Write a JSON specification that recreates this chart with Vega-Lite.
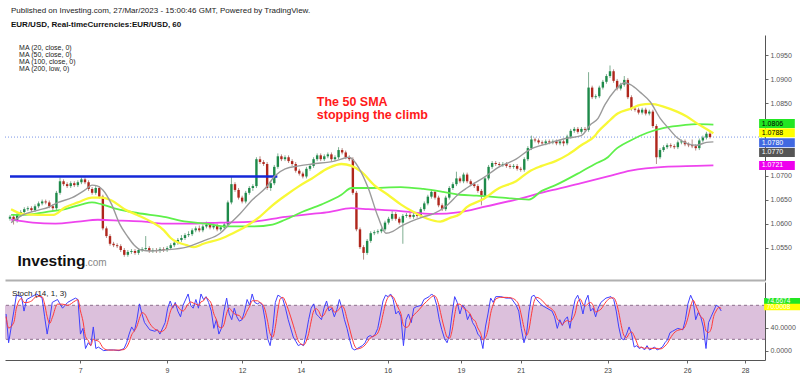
{
"$schema":"https://vega.github.io/schema/vega-lite/v6.json",
"padding":{"left":4,"top":7,"right":0,"bottom":0},
"background":"white",
"spacing":2,
"config":{"view":{"stroke":null},"font":"Liberation Sans","axis":{"labelFont":"Liberation Sans","grid":false}},
"title":{"text":"Published on Investing.com, 27/Mar/2023 - 15:00:46 GMT, Powered by TradingView.","subtitle":"EUR/USD, Real-timeCurrencies:EUR/USD, 60","anchor":"start","frame":"group","dx":6,"offset":6,"fontSize":8,"fontWeight":"normal","color":"#222","font":"Liberation Sans","subtitleFont":"Liberation Sans","subtitleFontSize":8,"subtitleFontWeight":"bold","subtitleColor":"#111","subtitlePadding":6},
"datasets":{
"cd":[
{"t":0,"o":1.0610,"h":1.0618,"l":1.0606,"c":1.0614},{"t":2,"o":1.0614,"h":1.0618,"l":1.0598,"c":1.0606},{"t":4,"o":1.0606,"h":1.0622,"l":1.0602,"c":1.0618},{"t":6,"o":1.0618,"h":1.0628,"l":1.0614,"c":1.0624},{"t":8,"o":1.0624,"h":1.0634,"l":1.0620,"c":1.0630},{"t":10,"o":1.0630,"h":1.0636,"l":1.0626,"c":1.0632},{"t":12,"o":1.0632,"h":1.0636,"l":1.0624,"c":1.0628},{"t":14,"o":1.0628,"h":1.0640,"l":1.0624,"c":1.0636},{"t":16,"o":1.0636,"h":1.0646,"l":1.0632,"c":1.0642},{"t":18,"o":1.0642,"h":1.0650,"l":1.0638,"c":1.0646},
{"t":20,"o":1.0646,"h":1.0650,"l":1.0640,"c":1.0644},{"t":22,"o":1.0644,"h":1.0648,"l":1.0632,"c":1.0636},{"t":24,"o":1.0636,"h":1.0640,"l":1.0626,"c":1.0632},{"t":26,"o":1.0632,"h":1.0668,"l":1.0628,"c":1.0664},{"t":28,"o":1.0664,"h":1.0696,"l":1.0660,"c":1.0688},{"t":30,"o":1.0688,"h":1.0692,"l":1.0678,"c":1.0682},{"t":32,"o":1.0682,"h":1.0686,"l":1.0674,"c":1.0678},{"t":34,"o":1.0678,"h":1.0688,"l":1.0674,"c":1.0684},{"t":36,"o":1.0684,"h":1.0688,"l":1.0676,"c":1.0680},{"t":38,"o":1.0680,"h":1.0690,"l":1.0676,"c":1.0686},
{"t":40,"o":1.0686,"h":1.0696,"l":1.0682,"c":1.0692},{"t":42,"o":1.0692,"h":1.0696,"l":1.0682,"c":1.0686},{"t":44,"o":1.0686,"h":1.0690,"l":1.0668,"c":1.0672},{"t":46,"o":1.0672,"h":1.0676,"l":1.0660,"c":1.0664},{"t":48,"o":1.0664,"h":1.0678,"l":1.0660,"c":1.0674},{"t":50,"o":1.0674,"h":1.0678,"l":1.0652,"c":1.0656},{"t":52,"o":1.0656,"h":1.0660,"l":1.0586,"c":1.0590},{"t":54,"o":1.0590,"h":1.0594,"l":1.0570,"c":1.0574},{"t":56,"o":1.0574,"h":1.0578,"l":1.0554,"c":1.0558},{"t":58,"o":1.0558,"h":1.0562,"l":1.0551,"c":1.0555},
{"t":60,"o":1.0555,"h":1.0559,"l":1.0549,"c":1.0553},{"t":62,"o":1.0553,"h":1.0557,"l":1.0541,"c":1.0545},{"t":64,"o":1.0545,"h":1.0549,"l":1.0531,"c":1.0535},{"t":66,"o":1.0535,"h":1.0545,"l":1.0531,"c":1.0541},{"t":68,"o":1.0541,"h":1.0547,"l":1.0537,"c":1.0543},{"t":70,"o":1.0543,"h":1.0547,"l":1.0535,"c":1.0539},{"t":72,"o":1.0539,"h":1.0549,"l":1.0535,"c":1.0545},{"t":74,"o":1.0545,"h":1.0551,"l":1.0541,"c":1.0547},{"t":76,"o":1.0547,"h":1.0574,"l":1.0543,"c":1.0549},{"t":78,"o":1.0549,"h":1.0553,"l":1.0539,"c":1.0543},
{"t":80,"o":1.0543,"h":1.0549,"l":1.0539,"c":1.0545},{"t":82,"o":1.0545,"h":1.0549,"l":1.0539,"c":1.0543},{"t":84,"o":1.0543,"h":1.0551,"l":1.0539,"c":1.0547},{"t":86,"o":1.0547,"h":1.0551,"l":1.0541,"c":1.0545},{"t":88,"o":1.0545,"h":1.0553,"l":1.0541,"c":1.0549},{"t":90,"o":1.0549,"h":1.0559,"l":1.0545,"c":1.0555},{"t":92,"o":1.0555,"h":1.0564,"l":1.0551,"c":1.0560},{"t":94,"o":1.0560,"h":1.0570,"l":1.0556,"c":1.0566},{"t":96,"o":1.0566,"h":1.0576,"l":1.0562,"c":1.0570},{"t":98,"o":1.0570,"h":1.0580,"l":1.0566,"c":1.0576},
{"t":100,"o":1.0576,"h":1.0584,"l":1.0572,"c":1.0578},{"t":102,"o":1.0578,"h":1.0590,"l":1.0574,"c":1.0586},{"t":104,"o":1.0586,"h":1.0594,"l":1.0582,"c":1.0590},{"t":106,"o":1.0590,"h":1.0596,"l":1.0582,"c":1.0586},{"t":108,"o":1.0586,"h":1.0598,"l":1.0582,"c":1.0594},{"t":110,"o":1.0594,"h":1.0604,"l":1.0590,"c":1.0598},{"t":112,"o":1.0598,"h":1.0602,"l":1.0588,"c":1.0592},{"t":114,"o":1.0592,"h":1.0600,"l":1.0588,"c":1.0596},{"t":116,"o":1.0596,"h":1.0600,"l":1.0584,"c":1.0588},{"t":118,"o":1.0588,"h":1.0596,"l":1.0584,"c":1.0592},
{"t":120,"o":1.0592,"h":1.0602,"l":1.0588,"c":1.0598},{"t":122,"o":1.0598,"h":1.0648,"l":1.0594,"c":1.0644},{"t":124,"o":1.0644,"h":1.0698,"l":1.0640,"c":1.0682},{"t":126,"o":1.0682,"h":1.0686,"l":1.0666,"c":1.0670},{"t":128,"o":1.0670,"h":1.0674,"l":1.0650,"c":1.0654},{"t":130,"o":1.0654,"h":1.0658,"l":1.0642,"c":1.0646},{"t":132,"o":1.0646,"h":1.0668,"l":1.0642,"c":1.0664},{"t":134,"o":1.0664,"h":1.0678,"l":1.0660,"c":1.0674},{"t":136,"o":1.0674,"h":1.0682,"l":1.0668,"c":1.0678},{"t":138,"o":1.0678,"h":1.0738,"l":1.0674,"c":1.0734},
{"t":140,"o":1.0734,"h":1.0740,"l":1.0724,"c":1.0728},{"t":142,"o":1.0728,"h":1.0732,"l":1.0720,"c":1.0724},{"t":144,"o":1.0724,"h":1.0728,"l":1.0670,"c":1.0674},{"t":146,"o":1.0674,"h":1.0688,"l":1.0668,"c":1.0684},{"t":148,"o":1.0684,"h":1.0722,"l":1.0680,"c":1.0718},{"t":150,"o":1.0718,"h":1.0746,"l":1.0714,"c":1.0740},{"t":152,"o":1.0740,"h":1.0744,"l":1.0730,"c":1.0734},{"t":154,"o":1.0734,"h":1.0742,"l":1.0730,"c":1.0738},{"t":156,"o":1.0738,"h":1.0742,"l":1.0726,"c":1.0730},{"t":158,"o":1.0730,"h":1.0734,"l":1.0720,"c":1.0724},
{"t":160,"o":1.0724,"h":1.0728,"l":1.0706,"c":1.0710},{"t":162,"o":1.0710,"h":1.0714,"l":1.0700,"c":1.0704},{"t":164,"o":1.0704,"h":1.0708,"l":1.0694,"c":1.0698},{"t":166,"o":1.0698,"h":1.0718,"l":1.0694,"c":1.0714},{"t":168,"o":1.0714,"h":1.0724,"l":1.0710,"c":1.0720},{"t":170,"o":1.0720,"h":1.0738,"l":1.0716,"c":1.0734},{"t":172,"o":1.0734,"h":1.0746,"l":1.0730,"c":1.0742},{"t":174,"o":1.0742,"h":1.0746,"l":1.0730,"c":1.0734},{"t":176,"o":1.0734,"h":1.0744,"l":1.0730,"c":1.0740},{"t":178,"o":1.0740,"h":1.0748,"l":1.0736,"c":1.0744},
{"t":180,"o":1.0744,"h":1.0748,"l":1.0730,"c":1.0734},{"t":182,"o":1.0734,"h":1.0742,"l":1.0730,"c":1.0738},{"t":184,"o":1.0738,"h":1.0759,"l":1.0734,"c":1.0753},{"t":186,"o":1.0753,"h":1.0757,"l":1.0744,"c":1.0748},{"t":188,"o":1.0748,"h":1.0752,"l":1.0734,"c":1.0738},{"t":190,"o":1.0738,"h":1.0742,"l":1.0730,"c":1.0734},{"t":192,"o":1.0734,"h":1.0738,"l":1.0660,"c":1.0664},{"t":194,"o":1.0664,"h":1.0668,"l":1.0584,"c":1.0588},{"t":196,"o":1.0588,"h":1.0592,"l":1.0547,"c":1.0551},{"t":198,"o":1.0551,"h":1.0555,"l":1.0525,"c":1.0539},
{"t":200,"o":1.0539,"h":1.0568,"l":1.0535,"c":1.0564},{"t":202,"o":1.0564,"h":1.0584,"l":1.0560,"c":1.0580},{"t":204,"o":1.0580,"h":1.0586,"l":1.0576,"c":1.0582},{"t":206,"o":1.0582,"h":1.0588,"l":1.0578,"c":1.0584},{"t":208,"o":1.0584,"h":1.0592,"l":1.0580,"c":1.0588},{"t":210,"o":1.0588,"h":1.0606,"l":1.0584,"c":1.0602},{"t":212,"o":1.0602,"h":1.0614,"l":1.0598,"c":1.0610},{"t":214,"o":1.0610,"h":1.0626,"l":1.0606,"c":1.0620},{"t":216,"o":1.0620,"h":1.0624,"l":1.0606,"c":1.0610},{"t":218,"o":1.0610,"h":1.0614,"l":1.0598,"c":1.0602},
{"t":220,"o":1.0602,"h":1.0620,"l":1.0558,"c":1.0616},{"t":222,"o":1.0616,"h":1.0622,"l":1.0612,"c":1.0618},{"t":224,"o":1.0618,"h":1.0622,"l":1.0610,"c":1.0614},{"t":226,"o":1.0614,"h":1.0622,"l":1.0610,"c":1.0618},{"t":228,"o":1.0618,"h":1.0622,"l":1.0612,"c":1.0616},{"t":230,"o":1.0616,"h":1.0634,"l":1.0612,"c":1.0630},{"t":232,"o":1.0630,"h":1.0646,"l":1.0626,"c":1.0642},{"t":234,"o":1.0642,"h":1.0660,"l":1.0638,"c":1.0656},{"t":236,"o":1.0656,"h":1.0670,"l":1.0652,"c":1.0666},{"t":238,"o":1.0666,"h":1.0670,"l":1.0650,"c":1.0654},
{"t":240,"o":1.0654,"h":1.0658,"l":1.0634,"c":1.0638},{"t":242,"o":1.0638,"h":1.0642,"l":1.0626,"c":1.0630},{"t":244,"o":1.0630,"h":1.0658,"l":1.0626,"c":1.0654},{"t":246,"o":1.0654,"h":1.0678,"l":1.0650,"c":1.0674},{"t":248,"o":1.0674,"h":1.0686,"l":1.0670,"c":1.0682},{"t":250,"o":1.0682,"h":1.0708,"l":1.0678,"c":1.0694},{"t":252,"o":1.0694,"h":1.0698,"l":1.0684,"c":1.0688},{"t":254,"o":1.0688,"h":1.0706,"l":1.0684,"c":1.0702},{"t":256,"o":1.0702,"h":1.0706,"l":1.0684,"c":1.0688},{"t":258,"o":1.0688,"h":1.0692,"l":1.0678,"c":1.0682},
{"t":260,"o":1.0682,"h":1.0686,"l":1.0674,"c":1.0678},{"t":262,"o":1.0678,"h":1.0682,"l":1.0664,"c":1.0668},{"t":264,"o":1.0668,"h":1.0672,"l":1.0638,"c":1.0658},{"t":266,"o":1.0658,"h":1.0698,"l":1.0654,"c":1.0694},{"t":268,"o":1.0694,"h":1.0722,"l":1.0690,"c":1.0718},{"t":270,"o":1.0718,"h":1.0730,"l":1.0714,"c":1.0726},{"t":272,"o":1.0726,"h":1.0730,"l":1.0720,"c":1.0724},{"t":274,"o":1.0724,"h":1.0728,"l":1.0718,"c":1.0722},{"t":276,"o":1.0722,"h":1.0728,"l":1.0718,"c":1.0724},{"t":278,"o":1.0724,"h":1.0728,"l":1.0716,"c":1.0720},
{"t":280,"o":1.0720,"h":1.0724,"l":1.0714,"c":1.0718},{"t":282,"o":1.0718,"h":1.0724,"l":1.0714,"c":1.0720},{"t":284,"o":1.0720,"h":1.0724,"l":1.0710,"c":1.0714},{"t":286,"o":1.0714,"h":1.0718,"l":1.0708,"c":1.0712},{"t":288,"o":1.0712,"h":1.0738,"l":1.0708,"c":1.0734},{"t":290,"o":1.0734,"h":1.0761,"l":1.0730,"c":1.0757},{"t":292,"o":1.0757,"h":1.0783,"l":1.0753,"c":1.0775},{"t":294,"o":1.0775,"h":1.0779,"l":1.0769,"c":1.0773},{"t":296,"o":1.0773,"h":1.0777,"l":1.0765,"c":1.0769},{"t":298,"o":1.0769,"h":1.0773,"l":1.0763,"c":1.0767},
{"t":300,"o":1.0767,"h":1.0775,"l":1.0763,"c":1.0771},{"t":302,"o":1.0771,"h":1.0775,"l":1.0765,"c":1.0769},{"t":304,"o":1.0769,"h":1.0775,"l":1.0765,"c":1.0771},{"t":306,"o":1.0771,"h":1.0775,"l":1.0763,"c":1.0767},{"t":308,"o":1.0767,"h":1.0775,"l":1.0763,"c":1.0771},{"t":310,"o":1.0771,"h":1.0775,"l":1.0761,"c":1.0767},{"t":312,"o":1.0767,"h":1.0785,"l":1.0763,"c":1.0781},{"t":314,"o":1.0781,"h":1.0797,"l":1.0777,"c":1.0793},{"t":316,"o":1.0793,"h":1.0801,"l":1.0789,"c":1.0797},{"t":318,"o":1.0797,"h":1.0801,"l":1.0787,"c":1.0791},
{"t":320,"o":1.0791,"h":1.0801,"l":1.0787,"c":1.0797},{"t":322,"o":1.0797,"h":1.0801,"l":1.0791,"c":1.0795},{"t":324,"o":1.0795,"h":1.0915,"l":1.0791,"c":1.0883},{"t":326,"o":1.0883,"h":1.0887,"l":1.0859,"c":1.0863},{"t":328,"o":1.0863,"h":1.0869,"l":1.0859,"c":1.0865},{"t":330,"o":1.0865,"h":1.0887,"l":1.0861,"c":1.0883},{"t":332,"o":1.0883,"h":1.0899,"l":1.0879,"c":1.0895},{"t":334,"o":1.0895,"h":1.0911,"l":1.0891,"c":1.0907},{"t":336,"o":1.0907,"h":1.0929,"l":1.0903,"c":1.0917},{"t":338,"o":1.0917,"h":1.0921,"l":1.0893,"c":1.0897},
{"t":340,"o":1.0897,"h":1.0901,"l":1.0877,"c":1.0881},{"t":342,"o":1.0881,"h":1.0893,"l":1.0877,"c":1.0889},{"t":344,"o":1.0889,"h":1.0907,"l":1.0885,"c":1.0899},{"t":346,"o":1.0899,"h":1.0903,"l":1.0859,"c":1.0863},{"t":348,"o":1.0863,"h":1.0867,"l":1.0835,"c":1.0839},{"t":350,"o":1.0839,"h":1.0843,"l":1.0833,"c":1.0837},{"t":352,"o":1.0837,"h":1.0841,"l":1.0827,"c":1.0831},{"t":354,"o":1.0831,"h":1.0841,"l":1.0827,"c":1.0837},{"t":356,"o":1.0837,"h":1.0841,"l":1.0825,"c":1.0829},{"t":358,"o":1.0829,"h":1.0837,"l":1.0825,"c":1.0833},
{"t":360,"o":1.0833,"h":1.0837,"l":1.0799,"c":1.0803},{"t":362,"o":1.0803,"h":1.0807,"l":1.0724,"c":1.0738},{"t":364,"o":1.0738,"h":1.0757,"l":1.0734,"c":1.0753},{"t":366,"o":1.0753,"h":1.0763,"l":1.0749,"c":1.0759},{"t":368,"o":1.0759,"h":1.0767,"l":1.0755,"c":1.0763},{"t":370,"o":1.0763,"h":1.0767,"l":1.0757,"c":1.0761},{"t":372,"o":1.0761,"h":1.0765,"l":1.0755,"c":1.0759},{"t":374,"o":1.0759,"h":1.0773,"l":1.0755,"c":1.0769},{"t":376,"o":1.0769,"h":1.0775,"l":1.0765,"c":1.0771},{"t":378,"o":1.0771,"h":1.0775,"l":1.0761,"c":1.0765},
{"t":380,"o":1.0765,"h":1.0769,"l":1.0759,"c":1.0763},{"t":382,"o":1.0763,"h":1.0775,"l":1.0757,"c":1.0761},{"t":384,"o":1.0761,"h":1.0765,"l":1.0752,"c":1.0757},{"t":386,"o":1.0757,"h":1.0777,"l":1.0753,"c":1.0773},{"t":388,"o":1.0773,"h":1.0783,"l":1.0769,"c":1.0779},{"t":390,"o":1.0779,"h":1.0791,"l":1.0775,"c":1.0787},{"t":392,"o":1.0787,"h":1.0791,"l":1.0777,"c":1.0780}
],
"ma20":[{"t":0.6,"p":1.0602},{"t":7.2,"p":1.0618},{"t":16,"p":1.0628},{"t":21.5,"p":1.0634},{"t":27,"p":1.0644},{"t":34.8,"p":1.0654},{"t":42,"p":1.0670},{"t":45.9,"p":1.0680},{"t":49.2,"p":1.0678},{"t":52,"p":1.0670},{"t":56.9,"p":1.0640},{"t":61.3,"p":1.0600},{"t":65.7,"p":1.0574},{"t":69.6,"p":1.0555},{"t":73.5,"p":1.0545},{"t":79,"p":1.0543},{"t":86.2,"p":1.0545},{"t":98.9,"p":1.0551},{"t":108.3,"p":1.0564},{"t":117.7,"p":1.0580},{"t":123.2,"p":1.0600},{"t":128.7,"p":1.0620},{"t":135.9,"p":1.0650},{"t":143.1,"p":1.0674},{"t":148.6,"p":1.0700},{"t":154.1,"p":1.0714},{"t":161.9,"p":1.0720},{"t":169.1,"p":1.0724},{"t":181.8,"p":1.0730},{"t":190,"p":1.0738},{"t":195.6,"p":1.0714},{"t":200.6,"p":1.0674},{"t":206.1,"p":1.0614},{"t":210.5,"p":1.0580},{"t":214.4,"p":1.0584},{"t":218.8,"p":1.0594},{"t":224.3,"p":1.0604},{"t":231.5,"p":1.0614},{"t":237,"p":1.0620},{"t":244.8,"p":1.0638},{"t":252,"p":1.0664},{"t":255.8,"p":1.0674},{"t":264.6,"p":1.0694},{"t":274,"p":1.0718},{"t":283.4,"p":1.0734},{"t":290.6,"p":1.0753},{"t":301.7,"p":1.0767},{"t":311,"p":1.0777},{"t":319.9,"p":1.0783},{"t":325.4,"p":1.0807},{"t":329.3,"p":1.0819},{"t":333.1,"p":1.0847},{"t":338.7,"p":1.0877},{"t":344.2,"p":1.0893},{"t":347.5,"p":1.0889},{"t":353,"p":1.0873},{"t":358.6,"p":1.0853},{"t":364.1,"p":1.0819},{"t":369.1,"p":1.0797},{"t":373.5,"p":1.0779},{"t":379,"p":1.0767},{"t":384.5,"p":1.0763},{"t":390,"p":1.0769},{"t":393.9,"p":1.0770}],
"ma50":[{"t":0.6,"p":1.0630},{"t":7.2,"p":1.0620},{"t":16,"p":1.0618},{"t":24.3,"p":1.0618},{"t":30.9,"p":1.0634},{"t":38.1,"p":1.0644},{"t":45.9,"p":1.0654},{"t":51.4,"p":1.0654},{"t":56.9,"p":1.0648},{"t":64.1,"p":1.0630},{"t":71.3,"p":1.0618},{"t":79,"p":1.0604},{"t":86.2,"p":1.0586},{"t":90,"p":1.0570},{"t":98.9,"p":1.0555},{"t":103,"p":1.0551},{"t":108.3,"p":1.0558},{"t":117.7,"p":1.0568},{"t":124.9,"p":1.0580},{"t":132,"p":1.0594},{"t":139.8,"p":1.0614},{"t":147,"p":1.0638},{"t":154.1,"p":1.0658},{"t":161.9,"p":1.0678},{"t":169.1,"p":1.0694},{"t":178.5,"p":1.0716},{"t":185.6,"p":1.0724},{"t":191.2,"p":1.0720},{"t":196.7,"p":1.0708},{"t":203.9,"p":1.0680},{"t":211.6,"p":1.0660},{"t":218.8,"p":1.0640},{"t":226,"p":1.0624},{"t":233.7,"p":1.0610},{"t":240.9,"p":1.0604},{"t":246.4,"p":1.0612},{"t":252,"p":1.0620},{"t":255.8,"p":1.0634},{"t":264.6,"p":1.0650},{"t":274,"p":1.0674},{"t":283.4,"p":1.0688},{"t":290.6,"p":1.0708},{"t":297.8,"p":1.0720},{"t":305.5,"p":1.0730},{"t":312.7,"p":1.0744},{"t":319.9,"p":1.0763},{"t":327.6,"p":1.0783},{"t":329.3,"p":1.0791},{"t":334.8,"p":1.0811},{"t":340.3,"p":1.0829},{"t":347.5,"p":1.0839},{"t":353,"p":1.0847},{"t":358.6,"p":1.0849},{"t":366.3,"p":1.0843},{"t":373.5,"p":1.0833},{"t":379,"p":1.0823},{"t":384.5,"p":1.0809},{"t":390,"p":1.0797},{"t":393.9,"p":1.0788}],
"ma100":[{"t":0.6,"p":1.0618},{"t":8.8,"p":1.0618},{"t":19.9,"p":1.0624},{"t":30.9,"p":1.0630},{"t":40.3,"p":1.0640},{"t":45.9,"p":1.0644},{"t":51.4,"p":1.0640},{"t":60.2,"p":1.0630},{"t":71.3,"p":1.0622},{"t":86.2,"p":1.0614},{"t":98.9,"p":1.0604},{"t":109.9,"p":1.0600},{"t":121,"p":1.0594},{"t":135.9,"p":1.0594},{"t":147,"p":1.0598},{"t":154.1,"p":1.0608},{"t":163.5,"p":1.0624},{"t":174.6,"p":1.0640},{"t":185.6,"p":1.0660},{"t":191.2,"p":1.0674},{"t":200.6,"p":1.0674},{"t":218.8,"p":1.0676},{"t":231.5,"p":1.0672},{"t":242.5,"p":1.0666},{"t":252,"p":1.0660},{"t":261.3,"p":1.0658},{"t":275.7,"p":1.0654},{"t":290.6,"p":1.0650},{"t":297.8,"p":1.0668},{"t":305.5,"p":1.0680},{"t":319.9,"p":1.0708},{"t":327.6,"p":1.0724},{"t":334.8,"p":1.0738},{"t":338.7,"p":1.0753},{"t":347.5,"p":1.0773},{"t":356.9,"p":1.0789},{"t":366.3,"p":1.0799},{"t":377.3,"p":1.0805},{"t":384.5,"p":1.0807},{"t":393.9,"p":1.0806}],
"ma200":[{"t":0.6,"p":1.0608},{"t":12.7,"p":1.0602},{"t":25.4,"p":1.0600},{"t":38.1,"p":1.0604},{"t":49.2,"p":1.0608},{"t":62.4,"p":1.0606},{"t":75.1,"p":1.0604},{"t":86.2,"p":1.0600},{"t":98.9,"p":1.0600},{"t":117.7,"p":1.0602},{"t":135.9,"p":1.0604},{"t":154.1,"p":1.0614},{"t":169.1,"p":1.0620},{"t":178.5,"p":1.0624},{"t":191.2,"p":1.0632},{"t":200.6,"p":1.0630},{"t":218.8,"p":1.0626},{"t":237,"p":1.0620},{"t":252,"p":1.0624},{"t":264.6,"p":1.0634},{"t":283.4,"p":1.0650},{"t":301.7,"p":1.0668},{"t":319.9,"p":1.0684},{"t":334.8,"p":1.0698},{"t":347.5,"p":1.0710},{"t":366.3,"p":1.0718},{"t":384.5,"p":1.0720},{"t":393.9,"p":1.0721}],
"st":[
{"t":0.6,"k":64.7,"d":60},{"t":2.0,"k":13.9,"d":40},{"t":4.9,"k":69.8,"d":50},{"t":6.3,"k":97.8,"d":75},{"t":9.1,"k":95.3,"d":92},{"t":10.5,"k":69.8,"d":85},{"t":12.0,"k":90.2,"d":85},{"t":14.8,"k":95.3,"d":88},{"t":17.6,"k":100,"d":96},{"t":20.5,"k":92.7,"d":95},{"t":21.9,"k":59.7,"d":82},{"t":23.3,"k":29.2,"d":60},{"t":24.7,"k":54.6,"d":48},{"t":26.1,"k":85.1,"d":58},{"t":29.0,"k":90.2,"d":82},{"t":31.8,"k":74.9,"d":82},{"t":34.6,"k":85.1,"d":80},{"t":38.9,"k":92.7,"d":88},{"t":40.3,"k":90.2,"d":90},{"t":41.7,"k":29.2,"d":70},{"t":43.1,"k":39.3,"d":52},{"t":44.5,"k":3.7,"d":25},{"t":46.0,"k":13.9,"d":18},{"t":47.4,"k":8.8,"d":9},{"t":48.8,"k":41.8,"d":20},{"t":50.2,"k":3.7,"d":18},{"t":51.6,"k":6.3,"d":17},{"t":54.5,"k":0,"d":4},{"t":57.3,"k":1.2,"d":1},{"t":60.1,"k":1.2,"d":1},{"t":63.0,"k":0,"d":1},{"t":65.8,"k":3.7,"d":2},{"t":67.2,"k":13.9,"d":6},{"t":68.6,"k":29.2,"d":15},{"t":70.0,"k":41.8,"d":28},{"t":71.5,"k":34.2,"d":35},{"t":72.9,"k":54.6,"d":43},{"t":74.3,"k":82.5,"d":57},{"t":75.7,"k":64.7,"d":67},{"t":77.1,"k":49.5,"d":65},
{"t":80.0,"k":36.8,"d":48},{"t":82.8,"k":34.2,"d":38},{"t":84.2,"k":36.8,"d":36},{"t":85.6,"k":29.2,"d":33},{"t":88.5,"k":49.5,"d":38},{"t":89.9,"k":74.9,"d":50},{"t":91.3,"k":87.6,"d":68},{"t":92.7,"k":74.9,"d":78},{"t":94.1,"k":85.1,"d":82},{"t":95.5,"k":69.8,"d":78},{"t":97.0,"k":59.7,"d":72},{"t":98.4,"k":80,"d":70},{"t":101.2,"k":100,"d":82},{"t":102.6,"k":80,"d":86},{"t":104.0,"k":74.9,"d":84},{"t":105.5,"k":90.2,"d":82},{"t":106.9,"k":74.9,"d":80},{"t":108.3,"k":100,"d":86},{"t":109.7,"k":90.2,"d":88},{"t":111.1,"k":95.3,"d":94},{"t":112.5,"k":85.1,"d":90},{"t":114.0,"k":69.8,"d":83},{"t":115.4,"k":39.3,"d":65},{"t":116.8,"k":54.6,"d":55},{"t":118.2,"k":29.2,"d":42},{"t":119.6,"k":39.3,"d":40},{"t":121.0,"k":69.8,"d":46},{"t":122.5,"k":92.7,"d":66},{"t":123.9,"k":64.7,"d":75},{"t":125.3,"k":54.6,"d":70},{"t":126.7,"k":74.9,"d":65},{"t":128.1,"k":59.7,"d":63},{"t":129.5,"k":52.0,"d":62},{"t":131.0,"k":54.6,"d":56},{"t":132.4,"k":69.8,"d":60},{"t":133.8,"k":90.2,"d":70},{"t":135.2,"k":80,"d":78},{"t":136.6,"k":100,"d":88},{"t":138.0,"k":85.1,"d":88},{"t":139.5,"k":82.5,"d":88},
{"t":140.9,"k":85.1,"d":85},{"t":142.3,"k":80,"d":82},{"t":143.7,"k":54.6,"d":72},{"t":145.1,"k":21.5,"d":52},{"t":146.5,"k":8.8,"d":30},{"t":148.0,"k":39.3,"d":24},{"t":149.4,"k":85.1,"d":42},{"t":150.8,"k":97.8,"d":72},{"t":152.2,"k":95.3,"d":92},{"t":153.6,"k":90.2,"d":94},{"t":155.0,"k":74.9,"d":86},{"t":156.5,"k":54.6,"d":73},{"t":159.3,"k":24.1,"d":45},{"t":160.7,"k":16.4,"d":30},{"t":162.1,"k":8.8,"d":17},{"t":163.5,"k":11.4,"d":12},{"t":165.0,"k":8.8,"d":10},{"t":166.4,"k":29.2,"d":16},{"t":167.8,"k":54.6,"d":30},{"t":169.2,"k":74.9,"d":52},{"t":170.6,"k":82.5,"d":70},{"t":172.0,"k":64.7,"d":74},{"t":173.5,"k":59.7,"d":69},{"t":174.9,"k":54.6,"d":60},{"t":176.3,"k":74.9,"d":63},{"t":177.7,"k":87.6,"d":72},{"t":179.1,"k":69.8,"d":77},{"t":180.5,"k":74.9,"d":77},{"t":182.0,"k":59.7,"d":68},{"t":183.4,"k":72.4,"d":69},{"t":184.8,"k":90.2,"d":74},{"t":186.2,"k":74.9,"d":79},{"t":187.6,"k":54.6,"d":73},{"t":189.0,"k":39.3,"d":56},{"t":190.5,"k":19.0,"d":38},{"t":191.9,"k":3.7,"d":21},{"t":193.3,"k":1.2,"d":8},{"t":194.7,"k":3.7,"d":3},{"t":196.1,"k":6.3,"d":4},{"t":197.5,"k":8.8,"d":6},
{"t":199.0,"k":13.9,"d":10},{"t":200.4,"k":24.1,"d":16},{"t":201.8,"k":26.6,"d":22},{"t":203.2,"k":24.1,"d":25},{"t":204.6,"k":29.2,"d":27},{"t":206.0,"k":39.3,"d":31},{"t":207.5,"k":64.7,"d":44},{"t":208.9,"k":87.6,"d":64},{"t":210.3,"k":97.8,"d":83},{"t":211.7,"k":95.3,"d":94},{"t":213.1,"k":100,"d":97},{"t":214.5,"k":90.2,"d":95},{"t":216.0,"k":64.7,"d":85},{"t":217.4,"k":69.8,"d":75},{"t":218.8,"k":59.7,"d":65},{"t":220.2,"k":8.8,"d":45},{"t":221.6,"k":54.6,"d":41},{"t":223.0,"k":64.7,"d":43},{"t":224.5,"k":49.5,"d":56},{"t":225.9,"k":74.9,"d":63},{"t":227.3,"k":77.5,"d":67},{"t":230.1,"k":80,"d":77},{"t":231.5,"k":90.2,"d":82},{"t":234.4,"k":95.3,"d":91},{"t":235.8,"k":100,"d":95},{"t":237.2,"k":95.3,"d":97},{"t":238.6,"k":80,"d":92},{"t":240.0,"k":54.6,"d":77},{"t":241.4,"k":36.8,"d":57},{"t":242.9,"k":21.5,"d":38},{"t":244.3,"k":13.9,"d":24},{"t":245.7,"k":29.2,"d":22},{"t":247.1,"k":64.7,"d":36},{"t":248.5,"k":95.3,"d":63},{"t":249.9,"k":85.1,"d":82},{"t":251.4,"k":64.7,"d":82},{"t":252.8,"k":80,"d":77},{"t":254.2,"k":74.9,"d":73},{"t":255.6,"k":54.6,"d":70},{"t":257.0,"k":64.7,"d":65},
{"t":258.4,"k":49.5,"d":56},{"t":259.9,"k":41.8,"d":52},{"t":261.3,"k":29.2,"d":40},{"t":262.7,"k":24.1,"d":32},{"t":264.1,"k":3.7,"d":19},{"t":265.5,"k":41.8,"d":23},{"t":266.9,"k":64.7,"d":37},{"t":268.4,"k":92.7,"d":66},{"t":269.8,"k":85.1,"d":81},{"t":271.2,"k":95.3,"d":91},{"t":274.0,"k":95.3,"d":94},{"t":276.9,"k":92.7,"d":94},{"t":279.7,"k":92.7,"d":93},{"t":282.5,"k":80,"d":88},{"t":283.9,"k":69.8,"d":81},{"t":285.3,"k":39.3,"d":63},{"t":286.8,"k":13.9,"d":41},{"t":288.2,"k":29.2,"d":27},{"t":289.6,"k":69.8,"d":38},{"t":291.0,"k":95.3,"d":65},{"t":292.4,"k":97.8,"d":87},{"t":293.8,"k":90.2,"d":94},{"t":296.7,"k":80,"d":89},{"t":299.5,"k":74.9,"d":79},{"t":302.3,"k":69.8,"d":73},{"t":303.7,"k":59.7,"d":68},{"t":305.2,"k":39.3,"d":56},{"t":306.6,"k":54.6,"d":51},{"t":308.0,"k":44.4,"d":46},{"t":309.4,"k":54.6,"d":51},{"t":310.8,"k":59.7,"d":53},{"t":312.2,"k":39.3,"d":51},{"t":313.7,"k":69.8,"d":56},{"t":315.1,"k":90.2,"d":66},{"t":316.5,"k":97.8,"d":86},{"t":317.9,"k":85.1,"d":91},{"t":319.4,"k":64.7,"d":82},{"t":320.8,"k":87.6,"d":79},{"t":322.2,"k":97.8,"d":83},{"t":323.6,"k":69.8,"d":85},
{"t":325.0,"k":74.9,"d":80},{"t":326.4,"k":59.7,"d":68},{"t":327.8,"k":74.9,"d":70},{"t":329.3,"k":85.1,"d":73},{"t":332.1,"k":92.7,"d":86},{"t":334.9,"k":95.3,"d":93},{"t":336.4,"k":90.2,"d":93},{"t":337.8,"k":69.8,"d":85},{"t":339.2,"k":41.8,"d":67},{"t":340.6,"k":21.5,"d":44},{"t":342.0,"k":19.0,"d":27},{"t":343.5,"k":29.2,"d":23},{"t":344.9,"k":41.8,"d":30},{"t":346.3,"k":29.2,"d":33},{"t":347.7,"k":6.3,"d":26},{"t":349.1,"k":8.8,"d":15},{"t":350.5,"k":3.7,"d":6},{"t":351.9,"k":6.3,"d":6},{"t":353.4,"k":1.2,"d":4},{"t":354.8,"k":8.8,"d":5},{"t":356.2,"k":1.2,"d":4},{"t":357.6,"k":3.7,"d":4},{"t":359.0,"k":6.3,"d":4},{"t":360.4,"k":1.2,"d":4},{"t":361.9,"k":3.7,"d":3},{"t":363.3,"k":6.3,"d":4},{"t":364.7,"k":13.9,"d":8},{"t":366.1,"k":19.0,"d":13},{"t":367.5,"k":31.7,"d":21},{"t":368.9,"k":34.2,"d":28},{"t":371.8,"k":39.3,"d":36},{"t":374.6,"k":36.8,"d":38},{"t":376.0,"k":54.6,"d":44},{"t":377.4,"k":82.5,"d":58},{"t":378.9,"k":97.8,"d":78},{"t":380.3,"k":87.6,"d":89},{"t":381.7,"k":54.6,"d":80},{"t":383.1,"k":67.3,"d":70},{"t":384.5,"k":59.7,"d":60},{"t":385.9,"k":41.8,"d":56},
{"t":387.4,"k":3.7,"d":35},{"t":388.8,"k":49.5,"d":32},{"t":390.2,"k":59.7,"d":38},{"t":391.6,"k":69.8,"d":60},{"t":393.0,"k":80,"d":70},{"t":394.4,"k":77.5,"d":76},{"t":395.8,"k":70.0,"d":74.7}
]
},
"vconcat":[
{
"width":760,"height":245,
"layer":[
{"data":{"values":[{}]},"mark":{"type":"rule","color":"#7b96e6","strokeDash":[1,2],"strokeWidth":1},
 "encoding":{"y":{"datum":1.078,"type":"quantitative","scale":{"domain":[1.0493,1.0982],"nice":false,"zero":false},
  "axis":{"orient":"right","values":[1.055,1.06,1.065,1.07,1.085,1.09,1.095],"format":".4f","title":null,"grid":false,"labelFontSize":7,"labelColor":"#555","tickColor":"#666","tickSize":3,"domainColor":"#555","labelPadding":2}}}},
{"data":{"name":"cd"},"mark":{"type":"rule","strokeWidth":1,"clip":true},
 "encoding":{"x":{"field":"t","type":"quantitative","title":null,"scale":{"domain":[0,420],"nice":false,"zero":false},"axis":{"labels":false,"ticks":false,"grid":false,"title":null,"domainColor":"#b0b0b0","domainWidth":2}},
  "y":{"field":"l","type":"quantitative","title":null},"y2":{"field":"h"},
  "color":{"condition":{"test":"datum.c>=datum.o","value":"#7fae92"},"value":"#b58c86"}}},
{"data":{"name":"cd"},"mark":{"type":"bar","size":2.4,"clip":true},
 "encoding":{"x":{"field":"t","type":"quantitative","title":null},"y":{"field":"o","type":"quantitative","title":null},"y2":{"field":"c"},
  "color":{"condition":{"test":"datum.c>=datum.o","value":"#1e8a4a"},"value":"#b0261c"}}},
{"data":{"values":[{}]},"mark":{"type":"rule","color":"#1428d8","strokeWidth":2.5},
 "encoding":{"x":{"datum":0,"type":"quantitative"},"x2":{"datum":149.7},"y":{"datum":1.0698,"type":"quantitative"}}},
{"data":{"name":"ma200"},"mark":{"type":"line","color":"#ee44ee","strokeWidth":1.8,"interpolate":"monotone","clip":true},
 "encoding":{"x":{"field":"t","type":"quantitative","title":null},"y":{"field":"p","type":"quantitative","title":null}}},
{"data":{"name":"ma100"},"mark":{"type":"line","color":"#5ef04a","strokeWidth":1.8,"interpolate":"monotone","clip":true},
 "encoding":{"x":{"field":"t","type":"quantitative","title":null},"y":{"field":"p","type":"quantitative","title":null}}},
{"data":{"name":"ma50"},"mark":{"type":"line","color":"#f8f836","strokeWidth":2.3,"interpolate":"monotone","clip":true},
 "encoding":{"x":{"field":"t","type":"quantitative","title":null},"y":{"field":"p","type":"quantitative","title":null}}},
{"data":{"name":"ma20"},"mark":{"type":"line","color":"#9a9a9a","strokeWidth":1.4,"interpolate":"monotone","clip":true},
 "encoding":{"x":{"field":"t","type":"quantitative","title":null},"y":{"field":"p","type":"quantitative","title":null}}},
{"data":{"values":[{"t":171.8,"p":1.0844,"txt":"The 50 SMA"},{"t":171.8,"p":1.0817,"txt":"stopping the climb"}]},
 "mark":{"type":"text","align":"left","baseline":"alphabetic","fontSize":12.5,"fontWeight":"bold","color":"#ff1a1a"},
 "encoding":{"x":{"field":"t","type":"quantitative","title":null},"y":{"field":"p","type":"quantitative","title":null},"text":{"field":"txt"}}},
{"data":{"values":[{"t":5.1,"p":1.0965,"txt":"MA (20, close, 0)"},{"t":5.1,"p":1.0951,"txt":"MA (50, close, 0)"},{"t":5.1,"p":1.0936,"txt":"MA (100, close, 0)"},{"t":5.1,"p":1.0921,"txt":"MA (200, low, 0)"}]},
 "mark":{"type":"text","align":"left","baseline":"middle","fontSize":7,"color":"#222"},
 "encoding":{"x":{"field":"t","type":"quantitative","title":null},"y":{"field":"p","type":"quantitative","title":null},"text":{"field":"txt"}}},
{"data":{"values":[{"t":4.2,"p":1.0512,"txt":"Investing"}]},
 "mark":{"type":"text","align":"left","baseline":"alphabetic","fontSize":15.5,"fontWeight":"bold","color":"#111"},
 "encoding":{"x":{"field":"t","type":"quantitative","title":null},"y":{"field":"p","type":"quantitative","title":null},"text":{"field":"txt"}}},
{"data":{"values":[{"t":42,"p":1.0512,"txt":".com"}]},
 "mark":{"type":"text","align":"left","baseline":"alphabetic","fontSize":10,"color":"#888"},
 "encoding":{"x":{"field":"t","type":"quantitative","title":null},"y":{"field":"p","type":"quantitative","title":null},"text":{"field":"txt"}}},
{"data":{"values":[{"lab":"1.0806","p":1.0808,"s":"ma100"},{"lab":"1.0788","p":1.0789,"s":"ma50"},{"lab":"1.0780","p":1.0768,"s":"close"},{"lab":"1.0770","p":1.0748,"s":"ma20"},{"lab":"1.0721","p":1.0721,"s":"ma200"}]},
 "layer":[
  {"mark":{"type":"bar","size":9,"orient":"horizontal","clip":false},
   "encoding":{"x":{"datum":419.5,"type":"quantitative"},"x2":{"datum":439.5},"y":{"field":"p","type":"quantitative","title":null},
    "color":{"field":"s","type":"nominal","scale":{"domain":["ma100","ma50","close","ma20","ma200"],"range":["#22e622","#ffff00","#4169e1","#555555","#ee00ee"]},"legend":null}}},
  {"mark":{"type":"text","align":"left","baseline":"middle","fontSize":7,"clip":false},
   "encoding":{"x":{"datum":421,"type":"quantitative"},"y":{"field":"p","type":"quantitative","title":null},"text":{"field":"lab"},
    "color":{"condition":{"test":"datum.s==='ma100'||datum.s==='ma50'","value":"#000"},"value":"#fff"}}}
 ]}
]
},
{
"width":760,"height":78,
"layer":[
{"data":{"values":[{}]},"mark":{"type":"rect","color":"#dcc0dc"},
 "encoding":{"x":{"datum":0,"type":"quantitative","scale":{"domain":[0,420],"nice":false,"zero":false},
   "axis":{"values":[41.5,89.5,131,163.5,211.5,252,285,333,377,409],"labelExpr":"['7','9','12','14','16','19','21','23','26','28'][indexof([41.5,89.5,131,163.5,211.5,252,285,333,377,409],datum.value)]","title":null,"grid":false,"labelFontSize":7,"labelColor":"#444","tickSize":3,"tickColor":"#666","domainColor":"#555","labelPadding":3}},
  "x2":{"datum":420},
  "y":{"datum":20,"type":"quantitative","scale":{"domain":[-7.7,112.3],"nice":false,"zero":false},
   "axis":{"orient":"right","values":[0,40],"format":".4f","title":null,"grid":false,"labelFontSize":7,"labelColor":"#555","tickColor":"#666","tickSize":3,"domainColor":"#555","labelPadding":2}},
  "y2":{"datum":80}}},
{"data":{"values":[{"v":20},{"v":80}]},"mark":{"type":"rule","color":"#8c6f8c","strokeDash":[3,3],"strokeWidth":1},
 "encoding":{"y":{"field":"v","type":"quantitative","title":null}}},
{"data":{"name":"st"},"mark":{"type":"line","color":"#4040ff","strokeWidth":1,"clip":true},
 "encoding":{"x":{"field":"t","type":"quantitative","title":null},"y":{"field":"k","type":"quantitative","title":null}}},
{"data":{"name":"st"},"mark":{"type":"line","color":"#ff3a3a","strokeWidth":1,"interpolate":"monotone","clip":true},
 "encoding":{"x":{"field":"t","type":"quantitative","title":null},"y":{"field":"d","type":"quantitative","title":null}}},
{"data":{"values":[{"t":3.9,"s":100,"txt":"Stoch (14, 1, 3)"}]},
 "mark":{"type":"text","align":"left","baseline":"middle","fontSize":8,"color":"#222"},
 "encoding":{"x":{"field":"t","type":"quantitative","title":null},"y":{"field":"s","type":"quantitative","title":null},"text":{"field":"txt"}}},
{"data":{"values":[{"lab":"74.6674","s":87,"w":"d"},{"lab":"70.0008","s":77,"w":"k"}]},
 "layer":[
  {"mark":{"type":"bar","size":6.5,"orient":"horizontal","clip":false},
   "encoding":{"x":{"datum":419.5,"type":"quantitative"},"x2":{"datum":439.5},"y":{"field":"s","type":"quantitative","title":null},
    "color":{"field":"w","type":"nominal","scale":{"domain":["d","k"],"range":["#ff0000","#0000ff"]},"legend":null}}},
  {"mark":{"type":"text","align":"left","baseline":"middle","fontSize":6.5,"color":"#fff","clip":false},
   "encoding":{"x":{"datum":421,"type":"quantitative"},"y":{"field":"s","type":"quantitative","title":null},"text":{"field":"lab"}}}
 ]}
]
}
]
}
